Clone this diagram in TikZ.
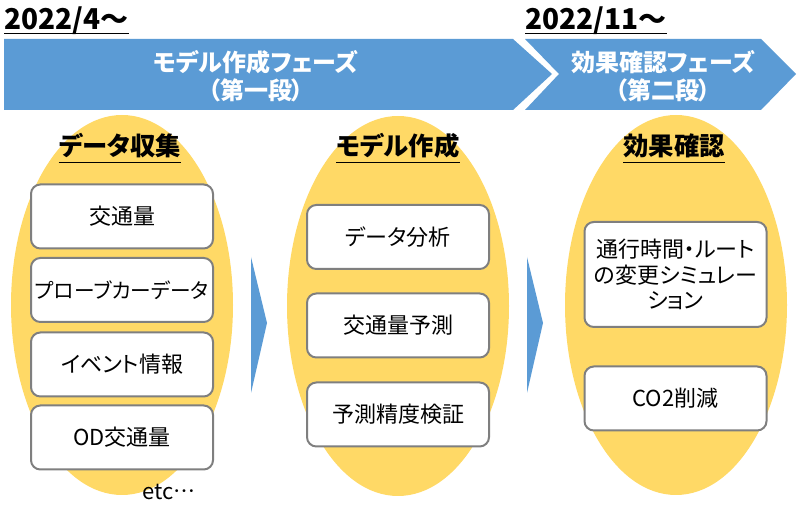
\documentclass[tikz,border=0pt]{standalone}
\usepackage{fontspec}
\setmainfont{Noto Sans CJK JP}[Script=CJK, RawFeature=+palt]
\usetikzlibrary{shapes.geometric}
\definecolor{phaseblue}{HTML}{5B9BD5}
\definecolor{ovalgold}{HTML}{FFD966}
\definecolor{boxgray}{HTML}{7F7F7F}
\begin{document}
\begin{tikzpicture}[x=0.75pt, y=-0.75pt,
    phasestyle/.style={fill=phaseblue},
    phasetext/.style={text=white, font=\bfseries\fontsize{18}{21}\selectfont, align=center},
    datestyle/.style={font=\bfseries\fontsize{21}{24}\selectfont, inner sep=0pt, anchor=base west},
    oval/.style={ellipse, fill=ovalgold, minimum width=166.5pt, minimum height=285pt, inner sep=0pt},
    headstyle/.style={font=\bfseries\fontsize{19}{22}\selectfont, inner sep=0pt, anchor=base},
    ulstyle/.style={line width=1.2pt},
    itembox/.style={rectangle, draw=boxgray, fill=white, line width=1.5pt, rounded corners=7pt, minimum width=136.5pt, minimum height=48pt, inner xsep=2pt, align=center, font=\fontsize{16.5}{19}\selectfont},
    arrowfill/.style={fill=phaseblue}
]
    \useasboundingbox (0,0) rectangle (800,516);

    % phases
    \fill[phasestyle] (4,39) -- (513,39) -- (552,74) -- (513,110) -- (4,110) -- cycle;
    \fill[phasestyle] (525,39) -- (761,39) -- (796,74) -- (761,110) -- (525,110) -- (559,74) -- cycle;
    \node[phasetext] (phase1) at (256,76) {モデル作成フェーズ\\（第一段）};
    \node[phasetext] (phase2) at (663,76) {効果確認フェーズ\\（第二段）};

    \node[datestyle] (date1) at (4,30) {2022/4～};
    \node[datestyle] (date2) at (525,30) {2022/11～};
    \draw[ulstyle] ([yshift=-2.5pt]date1.base west) -- ([yshift=-2.5pt]date1.base east);
    \draw[ulstyle] ([yshift=-2.5pt]date2.base west) -- ([yshift=-2.5pt]date2.base east);

    % ovals
    \node[oval] (ovalcollect) at (122,305) {};
    \node[oval] (ovalmodel) at (398,306) {};
    \node[oval] (ovaleffect) at (676,305) {};

    \node[headstyle] (head1) at (120,156) {データ収集};
    \node[headstyle] (head2) at (398,156) {モデル作成};
    \node[headstyle] (head3) at (674,156) {効果確認};
    \foreach \h in {head1,head2,head3}
        \draw[ulstyle] ([yshift=-5pt]\h.base west) -- ([yshift=-5pt]\h.base east);

    % boxes
    \node[itembox] (collect1) at (122,216.5) {交通量};
    \node[itembox, font=\fontsize{15.5}{19}\selectfont] (collect2) at (122,290) {プローブカーデータ};
    \node[itembox] (collect3) at (122,364.5) {イベント情報};
    \node[itembox] (collect4) at (122,437.5) {OD交通量};
    \node[font=\fontsize{16.5}{19}\selectfont] (etc) at (169,492) {etc…};

    \node[itembox] (model1) at (398,237) {データ分析};
    \node[itembox] (model2) at (398,325.5) {交通量予測};
    \node[itembox] (model3) at (398,414.5) {予測精度検証};

    \node[itembox, minimum height=78.75pt] (effect1) at (675.5,274.5) {通行時間・ルート\\の変更シミュレー\\ション};
    \node[itembox] (effect2) at (675.5,398.5) {CO2削減};

    % arrows
    \fill[arrowfill] (251,257) -- (267,323) -- (251,393) -- cycle;
    \fill[arrowfill] (527,257) -- (543,323) -- (527,393) -- cycle;
\end{tikzpicture}
\end{document}
